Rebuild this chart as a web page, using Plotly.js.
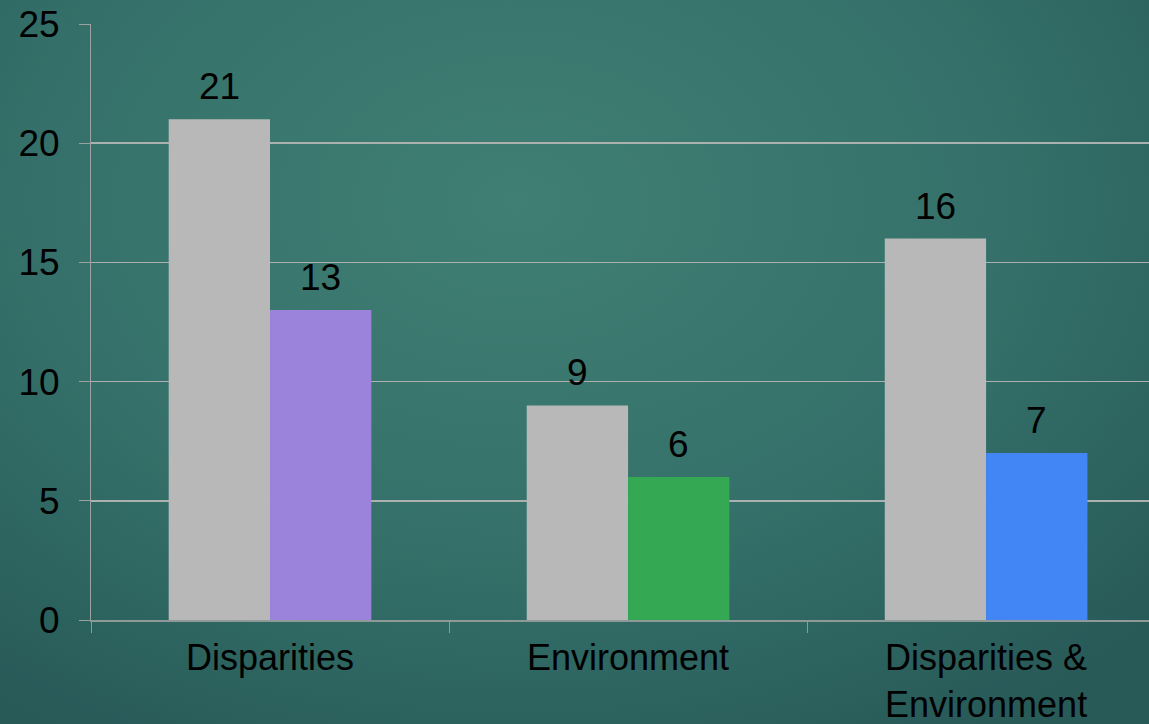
<!DOCTYPE html>
<html>
<head>
<meta charset="utf-8">
<script src="https://cdn.plot.ly/plotly-3.0.1.min.js"></script>
<style>
  html, body { margin: 0; padding: 0; width: 1149px; height: 724px; overflow: hidden; }
  body { background: radial-gradient(ellipse 75% 85% at 45% 28%, #407f74 0%, #35716a 55%, #2c625e 85%, #285a58 100%); }
  #chart { width: 1149px; height: 724px; }
</style>
</head>
<body>
<div id="chart"></div>
<script>
const categories = ["Disparities", "Environment", "Disparities &<br>Environment"];
const grayValues = [21, 9, 16];
const colorValues = [13, 6, 7];
const colorBarColors = ["#9b83db", "#34a853", "#4285f4"];
const grayColor = "#b8b8b8";

const bargap = 0.434;
const barOffset = (1 - bargap) / 4;
const fontSize = 37;

const traces = [
  { type: "bar", x: categories, y: grayValues, marker: { color: grayColor }, showlegend: false, hoverinfo: "none" },
  { type: "bar", x: categories, y: colorValues, marker: { color: colorBarColors }, showlegend: false, hoverinfo: "none" }
];

const annotations = [];
grayValues.forEach((v, i) => annotations.push({
  x: i - barOffset, y: v, xref: "x", yref: "y", text: String(v), showarrow: false,
  yanchor: "bottom", yshift: 10, font: { size: fontSize, color: "#000" }
}));
colorValues.forEach((v, i) => annotations.push({
  x: i + barOffset, y: v, xref: "x", yref: "y", text: String(v), showarrow: false,
  yanchor: "bottom", yshift: 10, font: { size: fontSize, color: "#000" }
}));

const layout = {
  width: 1149, height: 724,
  margin: { l: 91, r: 0, t: 24, b: 104 },
  paper_bgcolor: "rgba(0,0,0,0)",
  plot_bgcolor: "rgba(0,0,0,0)",
  font: { family: "Liberation Sans, Arial, sans-serif", size: fontSize, color: "#000" },
  barmode: "group",
  bargap: bargap,
  bargroupgap: 0,
  xaxis: {
    type: "category",
    range: [-0.5, 2.455],
    showline: true, linecolor: "#8f9a98", linewidth: 2,
    ticks: "outside", tickson: "boundaries", ticklen: 11, tickcolor: "#8f9a98", tickwidth: 1,
    showgrid: false, zeroline: false,
    ticklabelstandoff: 5,
    tickfont: { size: 36, color: "#000" }
  },
  yaxis: {
    range: [0, 25], dtick: 5,
    showline: true, linecolor: "#9aa3a1", linewidth: 1,
    ticks: "outside", ticklen: 11, tickcolor: "#9aa3a1", tickwidth: 1,
    showgrid: true, gridcolor: "#aab1af", gridwidth: 1.6,
    zeroline: false,
    ticklabelstandoff: 12,
    tickfont: { size: fontSize, color: "#000" }
  },
  annotations: annotations
};

Plotly.newPlot("chart", traces, layout, { staticPlot: true, displayModeBar: false });
</script>
</body>
</html>
